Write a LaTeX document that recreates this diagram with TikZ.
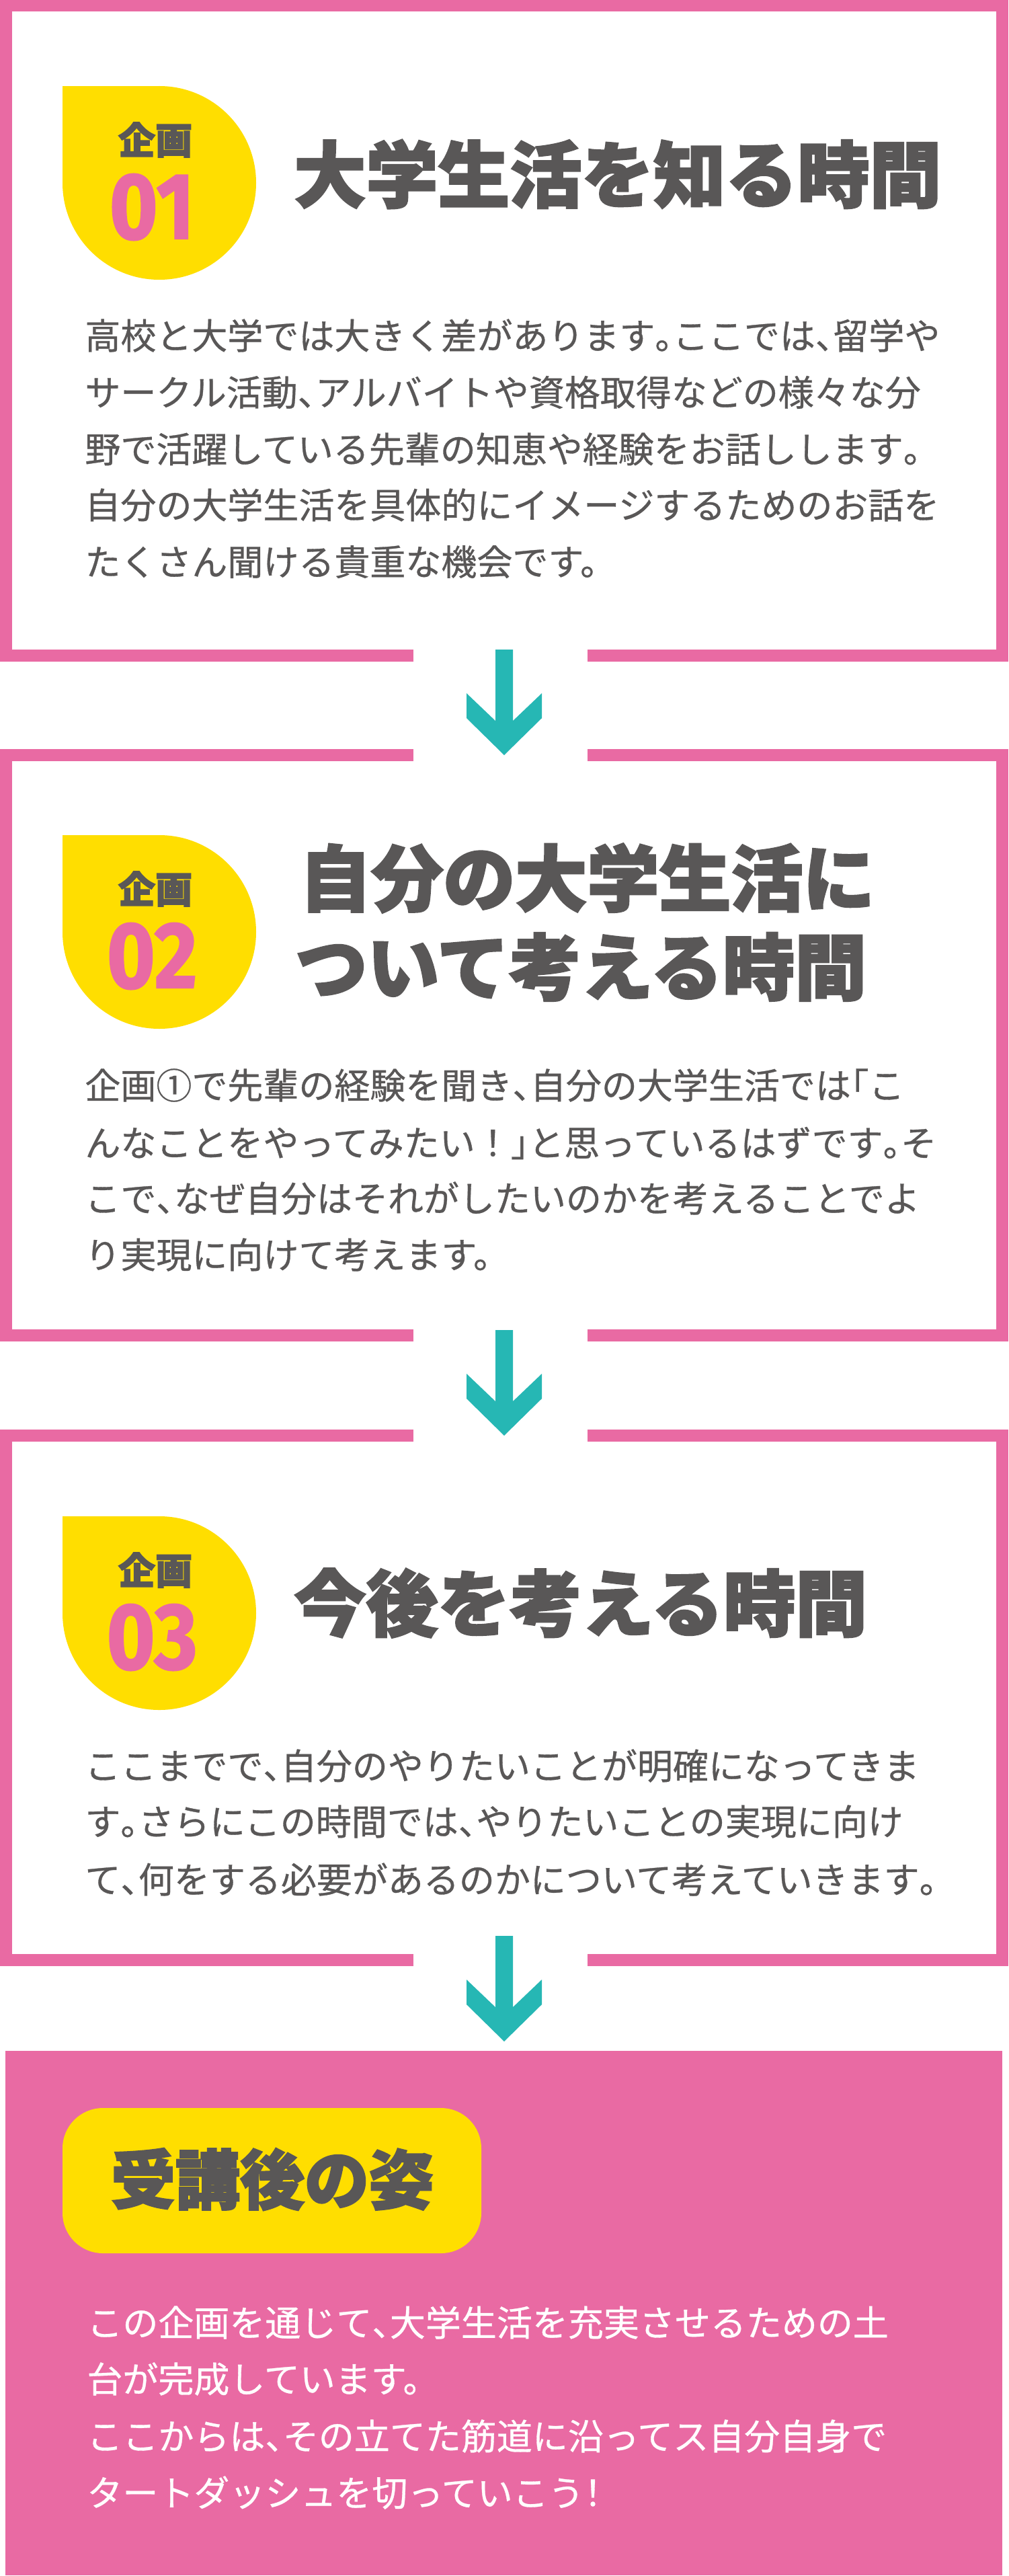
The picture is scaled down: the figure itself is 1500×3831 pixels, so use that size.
\documentclass[tikz,border=0pt]{standalone}
\usepackage{fontspec}
\usepackage{graphicx}
\setmainfont{Noto Sans CJK JP}
\newfontfamily\jp{Noto Sans CJK JP}[FakeBold=0.6]
\newfontfamily\jpheavy{Noto Sans CJK JP}[BoldFeatures={FakeBold=2.5}]
\newfontfamily\numfont{Fira Sans}[BoldFeatures={FakeBold=1.5}]
\XeTeXlinebreaklocale "ja"
\XeTeXlinebreakskip=0pt plus 4pt minus 1pt
\definecolor{pk}{HTML}{E96AA3}
\definecolor{yl}{HTML}{FFDE00}
\definecolor{tl}{HTML}{26B7B4}
\definecolor{txt}{HTML}{595757}
\newcommand\hl[1]{\makebox[0.5em][l]{#1}}
\newcommand\hr[1]{\makebox[0.5em][r]{#1}}
\newcommand\jline[1]{\hbox to 642pt{#1}}
\tikzset{
  body/.style={anchor=west, inner sep=0pt, text=txt, font=\jp\fontsize{26.5pt}{30pt}\selectfont},
  wbody/.style={body, text=white},
  titletext/.style={anchor=west, inner sep=0pt, text=txt, font=\jpheavy\bfseries\fontsize{53.5pt}{60pt}\selectfont},
  kikaku/.style={inner sep=0pt, text=txt, font=\jpheavy\bfseries\fontsize{27.5pt}{30pt}\selectfont},
  numlab/.style={inner sep=0pt, text=pk, font=\numfont\bfseries\fontsize{70pt}{70pt}\selectfont},
  boxframe/.style={draw=pk, line width=9pt, line join=miter},
  downarr/.pic={
    \fill[tl] (-13,-157) -- (13,-157) -- (13,-51) -- (56,-92) -- (56,-55) -- (0,0)
      -- (-56,-55) -- (-56,-92) -- (-13,-51) -- cycle;
  }
}
\begin{document}
\begin{tikzpicture}[x=0.5pt, y=-0.5pt]
\useasboundingbox (0,0) rectangle (1500,3831);
\fill[white] (0,0) rectangle (1500,3831);

% ---- frames ----
\draw[boxframe] (615,974.5) -- (9,974.5) -- (9,8.5) -- (1491,8.5) -- (1491,974.5) -- (874,974.5);
\draw[boxframe] (615,1986) -- (9,1986) -- (9,1123) -- (615,1123);
\draw[boxframe] (874,1123) -- (1491,1123) -- (1491,1986) -- (874,1986);
\draw[boxframe] (615,2915) -- (9,2915) -- (9,2135) -- (615,2135);
\draw[boxframe] (874,2135) -- (1491,2135) -- (1491,2915) -- (874,2915);

% ---- arrows ----
\coordinate (tip1) at (750,1123);
\coordinate (tip2) at (750,2135);
\coordinate (tip3) at (750,3036);
\pic at (tip1) {downarr};
\pic at (tip2) {downarr};
\pic at (tip3) {downarr};

% ---- badges ----
\foreach \t/\n [count=\i] in {128/01, 1242/02, 2255/03} {
  \fill[yl] (237,\t+144) circle[radius=144];
  \fill[yl] (93,\t) rectangle (237,\t+144);
  \node[kikaku] (kk\i) at (231,\t+80) {企画};
  \node[numlab] (nm\i) at (226,\t+180) {\scalebox{0.88}[1]{\n}};
}

% ---- block 1 ----
\node[titletext] (t1) at (437,259) {大学生活を知る時間};
\node[body] (b1l1) at (126,499)   {\jline{高校と大学では大きく差があります\hl{。}ここでは\hl{、}留学や}};
\node[body] (b1l2) at (126,583.5) {\jline{サークル活動\hl{、}アルバイトや資格取得などの様々な分}};
\node[body] (b1l3) at (126,668)   {\jline{野で活躍している先輩の知恵や経験をお話しします\hl{。}}};
\node[body] (b1l4) at (126,751)   {\jline{自分の大学生活を具体的にイメージするためのお話を}};
\node[body] (b1l5) at (126,835.5) {たくさん聞ける貴重な機会です。};

% ---- block 2 ----
\node[titletext] (t2a) at (445,1306) {自分の大学生活に};
\node[titletext] (t2b) at (439,1438) {ついて考える時間};
\node[body] (b2l1) at (126,1614) {\jline{企画①で先輩の経験を聞き\hl{、}自分の大学生活では\hr{「}こ}};
\node[body] (b2l2) at (126,1700) {\jline{んなことをやってみたい！\hl{」}と思っているはずです\hl{。}そ}};
\node[body] (b2l3) at (126,1782) {\jline{こで\hl{、}なぜ自分はそれがしたいのかを考えることでよ}};
\node[body] (b2l4) at (126,1866) {り実現に向けて考えます。};

% ---- block 3 ----
\node[titletext] (t3) at (437,2384) {今後を考える時間};
\node[body] (b3l1) at (126,2626) {\jline{ここまでで\hl{、}自分のやりたいことが明確になってきま}};
\node[body] (b3l2) at (126,2709) {\jline{す\hl{。}さらにこの時間では\hl{、}やりたいことの実現に向け}};
\node[body] (b3l3) at (126,2795) {\jline{て\hl{、}何をする必要があるのかについて考えていきます\hl{。}}};

% ---- final block ----
\fill[pk] (8,3050) rectangle (1491,3830);
\fill[yl, rounded corners=30pt] (93,3135) rectangle (716,3351);
\node[inner sep=0pt, text=txt, font=\jpheavy\bfseries\fontsize{48pt}{52pt}\selectfont] (goal) at (405,3241) {受講後の姿};
\node[wbody] (p1) at (129,3454) {\hbox to 608pt{この企画を通じて\hl{、}大学生活を充実させるための土}};
\node[wbody] (p2) at (129,3538) {台が完成しています。};
\node[wbody] (p3) at (129,3623) {\hbox to 602pt{ここからは\hl{、}その立てた筋道に沿ってス自分自身で}};
\node[wbody] (p4) at (129,3707) {タートダッシュを切っていこう\makebox[0.5em]{！}};
\end{tikzpicture}
\end{document}
